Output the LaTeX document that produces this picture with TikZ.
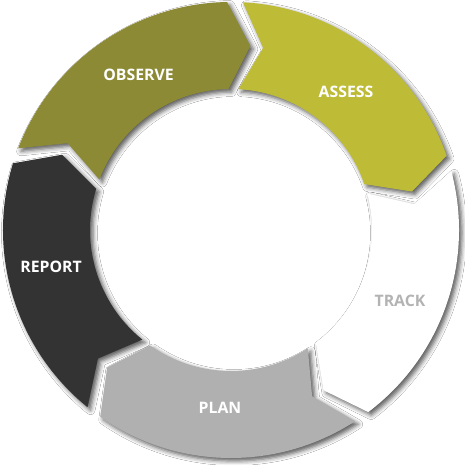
\documentclass[tikz,border=0pt]{standalone}
\usepackage{fontspec}
\setmainfont{Open Sans}
\usetikzlibrary{shadows.blur}
\definecolor{obscol}{HTML}{8C8A34}
\definecolor{asscol}{HTML}{BEBC36}
\definecolor{repcol}{HTML}{333333}
\definecolor{plancol}{HTML}{B0B0B0}
\definecolor{trktext}{HTML}{B3B3B3}
\tikzset{
  seg/.style={blur shadow={shadow xshift=3pt, shadow yshift=-3pt, shadow blur radius=4.5pt, shadow opacity=65}},
  lbl/.style={font=\fontsize{15.8}{18}\selectfont\bfseries, text=white, inner sep=0pt}
}
\newcommand\ringseg[3]{%
  \path[seg,fill=#1] (#2:228pt) arc[start angle=#2, end angle=#3, radius=228pt]
    -- ({#3-7}:185pt) -- (#3:141pt)
    arc[start angle=#3, end angle=#2, radius=141pt]
    -- ({#2-7}:185pt) -- cycle;}
\begin{document}
\begin{tikzpicture}
\useasboundingbox (0,0) rectangle (465pt,465pt);
\fill[white] (0,0) rectangle (465pt,465pt);
\begin{scope}[shift={(231pt,235pt)}]
  \ringseg{obscol}{159}{91}
  \ringseg{asscol}{87}{19}
  \ringseg{white}{15}{-53}
  \ringseg{plancol}{-57}{-125}
  \ringseg{repcol}{-129}{-197}
\end{scope}
\node[lbl] (observe) at (138.5pt,390pt) {OBSERVE};
\node[lbl] (assess) at (346pt,373pt) {ASSESS};
\node[lbl, text=trktext] (track) at (400pt,164pt) {TRACK};
\node[lbl] (plan) at (220pt,57pt) {PLAN};
\node[lbl] (report) at (51pt,198pt) {REPORT};
\end{tikzpicture}
\end{document}
